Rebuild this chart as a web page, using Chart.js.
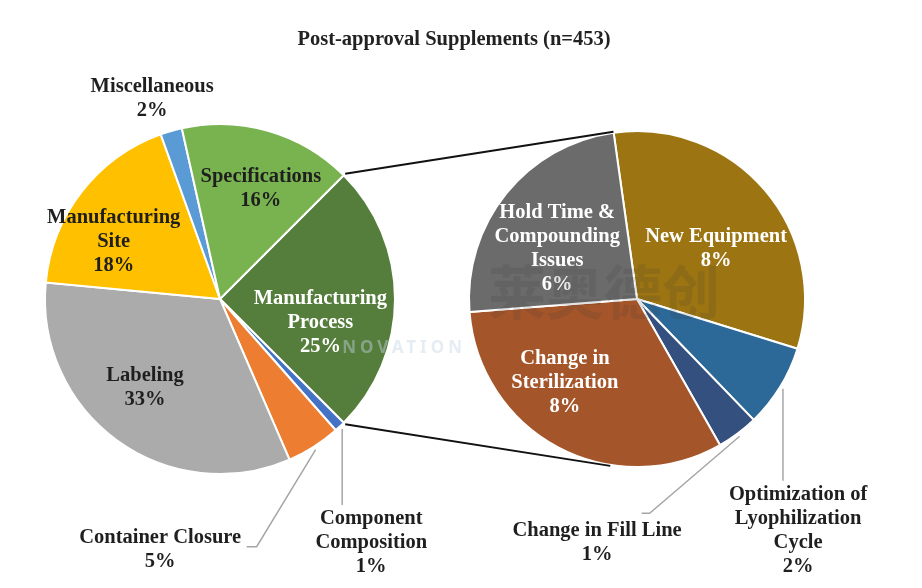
<!DOCTYPE html>
<html>
<head>
<meta charset="utf-8">
<script src="https://cdn.jsdelivr.net/npm/chart.js@4.4.1/dist/chart.umd.min.js"></script>
<style>
  html, body { margin: 0; padding: 0; background: #fff; }
  #wrap { position: relative; width: 922px; height: 588px; }
  #wrap canvas { position: absolute; left: 0; top: 0; }
</style>
</head>
<body>
<div id="wrap">
  <canvas id="mainPie" width="922" height="588"></canvas>
  <canvas id="subPie" width="922" height="588"></canvas>
</div>
<script>
// data
const titleText = 'Post-approval Supplements (n=453)';

const mainLabels = [['Manufacturing', 'Process'], ['Component', 'Composition'], ['Container Closure'],
                    ['Labeling'], ['Manufacturing', 'Site'], ['Miscellaneous'], ['Specifications']];
const mainValues = [25, 1, 5, 33, 18, 2, 16];

const subLabels = [['New Equipment'], ['Optimization of', 'Lyophilization', 'Cycle'], ['Change in Fill Line'],
                   ['Change in', 'Sterilization'], ['Hold Time &', 'Compounding', 'Issues']];
const subValues = [8, 2, 1, 8, 6];

// styles
const mainColors = ['#557d3b', '#4472c4', '#ed7d31', '#ababab', '#ffc000', '#5b9bd5', '#78b350'];
const subColors = ['#9c7512', '#2c6898', '#34507f', '#a5552a', '#6b6b6b'];
const mainTextColors = ['#fff', '#1f1f1f', '#1f1f1f', '#1f1f1f', '#1f1f1f', '#1f1f1f', '#1f1f1f'];
const subTextColors = ['#fff', '#1f1f1f', '#1f1f1f', '#fff', '#fff'];

// label spot = [fraction of radius, angle shift from slice middle in degrees]
const mainSpots = [[0.59, 13.5], [1.64, 11.4], [1.475, 45.8], [0.665, 4.1], [0.69, -9.5], [1.21, -2.5], [0.67, 4.2]];
const subSpots = [[0.557, 8.1], [1.68, 23.6], [1.47, 46.1], [0.66, 12.6], [0.56, -6.8]];
// leader lines: elbow offset from slice edge, then horizontal tail
const mainLeaders = [null, {dx: 0, dy: 76, tail: 0}, {dx: -59, dy: 97, tail: -10}, null, null, null, null];
const subLeaders = [null, {dx: 0, dy: 92, tail: 0}, {dx: -90, dy: 77, tail: -8}, null, null];

const FONT = 'bold 20.5px "Liberation Serif", "Times New Roman", serif';

function sliceText(id, labels, values, spots, leaders, textColors) {
  return {
    id: id,
    afterDatasetsDraw(chart) {
      const ctx = chart.ctx;
      const meta = chart.getDatasetMeta(0);
      ctx.save();
      ctx.font = FONT;
      ctx.textAlign = 'center';
      ctx.textBaseline = 'middle';
      meta.data.forEach((arc, i) => {
        const p = arc.getProps(['x', 'y', 'startAngle', 'endAngle', 'outerRadius'], true);
        const mid = (p.startAngle + p.endAngle) / 2;
        const ld = leaders[i];
        if (ld) {
          const sx = p.x + Math.cos(mid) * p.outerRadius * 1.02;
          const sy = p.y + Math.sin(mid) * p.outerRadius * 1.02;
          ctx.beginPath();
          ctx.strokeStyle = '#a6a6a6';
          ctx.lineWidth = 1.5;
          ctx.moveTo(sx, sy);
          ctx.lineTo(sx + ld.dx, sy + ld.dy);
          if (ld.tail) ctx.lineTo(sx + ld.dx + ld.tail, sy + ld.dy);
          ctx.stroke();
        }
        const a = mid + spots[i][1] * Math.PI / 180;
        const cx = p.x + Math.cos(a) * p.outerRadius * spots[i][0];
        const cy = p.y + Math.sin(a) * p.outerRadius * spots[i][0];
        const lines = labels[i].concat([values[i] + '%']);
        ctx.fillStyle = textColors[i];
        lines.forEach((t, k) => ctx.fillText(t, cx, cy + (k - (lines.length - 1) / 2) * 24));
      });
      ctx.restore();
    }
  };
}

const titlePlugin = {
  id: 'titleText',
  afterDraw(chart) {
    const ctx = chart.ctx;
    ctx.save();
    ctx.font = FONT;
    ctx.fillStyle = '#222';
    ctx.textAlign = 'center';
    ctx.textBaseline = 'middle';
    ctx.fillText(titleText, 454, 40);
    ctx.restore();
  }
};

const baseOptions = {
  responsive: false,
  animation: false,
  events: [],
  plugins: { legend: { display: false }, tooltip: { enabled: false } }
};

const mainChart = new Chart(document.getElementById('mainPie').getContext('2d'), {
  type: 'pie',
  data: {
    labels: mainLabels.map(l => l.join(' ')),
    datasets: [{
      data: mainValues,
      backgroundColor: mainColors,
      borderColor: '#fff',
      borderWidth: 2,
      hoverOffset: 0,
      radius: 175
    }]
  },
  options: Object.assign({}, baseOptions, {
    rotation: 45,
    layout: { padding: { left: 45, right: 527, top: 124, bottom: 114 } }
  }),
  plugins: [sliceText('mainText', mainLabels, mainValues, mainSpots, mainLeaders, mainTextColors), titlePlugin]
});

// connector lines between the two pies + watermark
const connectPlugin = {
  id: 'connect',
  afterDraw(chart) {
    const ctx = chart.ctx;
    const big = mainChart.getDatasetMeta(0).data[0].getProps(['x', 'y', 'startAngle', 'endAngle', 'outerRadius'], true);
    const small = chart.getDatasetMeta(0).data[0].getProps(['x', 'y', 'startAngle', 'outerRadius'], true);
    const ends = [[big.startAngle, small.startAngle], [big.endAngle, 99.1 * Math.PI / 180]];
    ctx.save();
    ctx.strokeStyle = '#111';
    ctx.lineWidth = 2;
    ends.forEach(([a1, a2]) => {
      ctx.beginPath();
      ctx.moveTo(big.x + Math.cos(a1) * (big.outerRadius + 2), big.y + Math.sin(a1) * (big.outerRadius + 2));
      ctx.lineTo(small.x + Math.cos(a2) * (small.outerRadius + 1), small.y + Math.sin(a2) * (small.outerRadius + 1));
      ctx.stroke();
    });
    // faint watermark
    ctx.font = 'bold 58px "Noto Sans CJK SC"';
    ctx.fillStyle = 'rgba(60,60,60,0.14)';
    ctx.textAlign = 'center';
    ctx.textBaseline = 'middle';
    ctx.fillText('莱奥德创', 604, 292);
    ctx.font = 'bold 17px "Noto Sans"';
    ctx.letterSpacing = '4px';
    ctx.fillStyle = 'rgba(200,213,230,0.45)';
    ctx.textAlign = 'right';
    ctx.fillText('NOVATION', 466, 348);
    ctx.restore();
  }
};

const subChart = new Chart(document.getElementById('subPie').getContext('2d'), {
  type: 'pie',
  data: {
    labels: subLabels.map(l => l.join(' ')),
    datasets: [{
      data: subValues,
      backgroundColor: subColors,
      borderColor: '#fff',
      borderWidth: 2,
      hoverOffset: 0,
      radius: 168
    }]
  },
  options: Object.assign({}, baseOptions, {
    rotation: -8,
    layout: { padding: { left: 469, right: 117, top: 131, bottom: 121 } }
  }),
  plugins: [connectPlugin, sliceText('subText', subLabels, subValues, subSpots, subLeaders, subTextColors)]
});
</script>
</body>
</html>
